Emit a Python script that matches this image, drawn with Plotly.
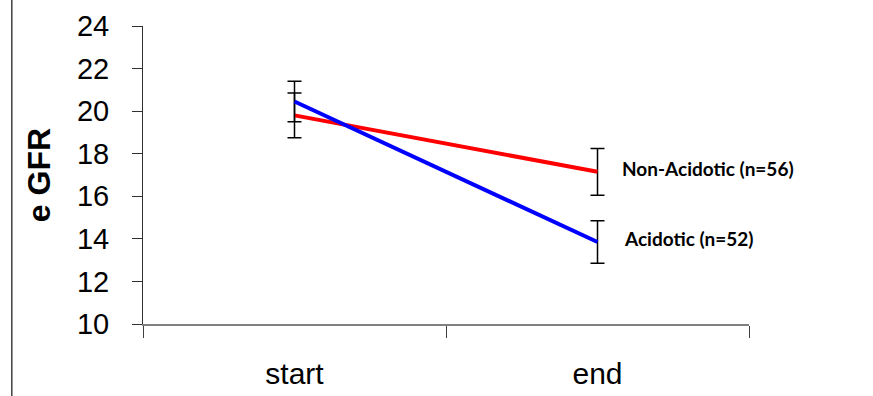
import plotly.graph_objects as go

categories = ["start", "end"]
acidotic = [20.45, 13.85]
acidotic_err = [0.95, 1.0]
non_acidotic = [19.8, 17.15]
non_acidotic_err = [1.05, 1.1]
labels = ["Acidotic (n=52)", "Non-Acidotic (n=56)"]
y_ticks = [10, 12, 14, 16, 18, 20, 22, 24]

fig = go.Figure()
fig.add_trace(go.Scatter(
    x=categories, y=non_acidotic, mode="lines",
    line=dict(color="#ff0000", width=4),
    error_y=dict(type="data", array=non_acidotic_err, color="black", thickness=1.5, width=7),
    name=labels[1], showlegend=False))
fig.add_trace(go.Scatter(
    x=categories, y=acidotic, mode="lines",
    line=dict(color="#0000ff", width=4),
    error_y=dict(type="data", array=acidotic_err, color="black", thickness=1.5, width=7),
    name=labels[0], showlegend=False))

fig.add_annotation(x=categories[1], y=non_acidotic[1] + 0.15, text=labels[1],
                   showarrow=False, xanchor="left", xshift=22,
                   font=dict(family="Lato", size=19, color="black", weight="bold"))
fig.add_annotation(x=categories[1], y=acidotic[1] + 0.15, text=labels[0],
                   showarrow=False, xanchor="left", xshift=24,
                   font=dict(family="Lato", size=19, color="black", weight="bold"))

# left border line
fig.add_shape(type="line", xref="paper", yref="paper",
              x0=-0.2165, x1=-0.2165, y0=-0.25, y1=1.1,
              line=dict(color="#404040", width=1.5))

fig.update_layout(
    width=873, height=396,
    margin=dict(l=143, r=124, t=26, b=72),
    plot_bgcolor="white", paper_bgcolor="white",
    font=dict(family="Liberation Sans, Arial", color="black"),
)
fig.update_xaxes(
    type="category", range=[-0.5, 1.5], automargin=False,
    showline=True, linecolor="#808080", linewidth=2,
    ticks="outside", ticklen=12, tickcolor="#404040", tickwidth=1,
    tickson="boundaries", showgrid=False, zeroline=False,
    ticklabelstandoff=22,
    tickfont=dict(size=30, family="Liberation Sans"),
)
fig.update_yaxes(
    range=[10, 24], tickvals=y_ticks, automargin=False,
    showline=True, linecolor="#303030", linewidth=1,
    ticks="outside", ticklen=10, tickcolor="#303030", tickwidth=1,
    showgrid=False, zeroline=False,
    ticklabelstandoff=17,
    tickfont=dict(size=29, family="Liberation Sans"),
    title=dict(text="<b>e GFR</b>", font=dict(size=32, family="Liberation Sans"), standoff=16),
)

fig.write_html("out.html")
